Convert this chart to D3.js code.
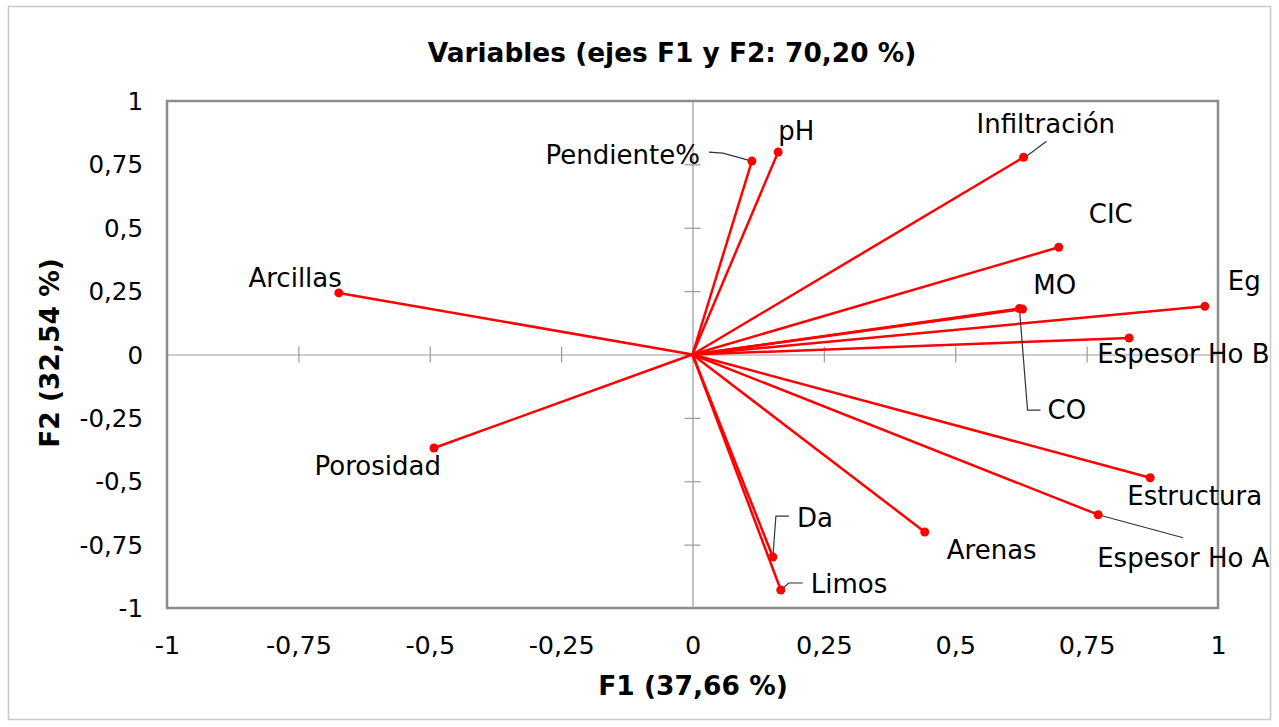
<!DOCTYPE html>
<html>
<head>
<meta charset="utf-8">
<script src="https://cdn.jsdelivr.net/npm/d3@7"></script>
<style>
  html, body { margin: 0; padding: 0; background: #ffffff; }
  svg { display: block; font-family: Verdana, "DejaVu Sans", sans-serif; }
</style>
</head>
<body>
<svg id="chart" width="1279" height="727"></svg>
<script>
// ---- data ----
const variables = ["Pendiente%", "pH", "Infiltración", "CIC", "MO", "CO", "Eg", "Espesor Ho B",
                   "Estructura", "Espesor Ho A", "Arenas", "Da", "Limos", "Arcillas", "Porosidad"];
const f1Values = [0.113, 0.163, 0.630, 0.697, 0.622, 0.628, 0.975, 0.831,
                  0.871, 0.772, 0.442, 0.153, 0.168, -0.673, -0.492];
const f2Values = [0.763, 0.799, 0.778, 0.423, 0.181, 0.179, 0.190, 0.065,
                  -0.486, -0.632, -0.700, -0.799, -0.929, 0.243, -0.369];
const tickValues = [-1, -0.75, -0.5, -0.25, 0, 0.25, 0.5, 0.75, 1];
const titleText = "Variables (ejes F1 y F2: 70,20 %)";
const xTitle = "F1 (37,66 %)";
const yTitle = "F2 (32,54 %)";

// ---- layout (label placement in pixels relative to the point) ----
const labelLayout = {
  "Pendiente%":   {dx: -52, dy: -6,  anchor: "end",   leader: [[0,0],[-29,-8],[-43,-9]]},
  "pH":           {dx: 0,   dy: -21, anchor: "start"},
  "Infiltración": {dx: -47, dy: -33, anchor: "start", leader: [[3,-1],[23,-16]]},
  "CIC":          {dx: 30,  dy: -33, anchor: "start"},
  "MO":           {dx: 14,  dy: -24, anchor: "start"},
  "CO":           {dx: 25,  dy: 101, anchor: "start", leader: [[-3,0],[5,101],[18,101]]},
  "Eg":           {dx: 23,  dy: -25, anchor: "start"},
  "Espesor Ho B": {dx: -32, dy: 16,  anchor: "start"},
  "Estructura":   {dx: -23, dy: 18,  anchor: "start"},
  "Espesor Ho A": {dx: -1,  dy: 43,  anchor: "start", leader: [[0,0],[85,23]]},
  "Arenas":       {dx: 22,  dy: 18,  anchor: "start"},
  "Da":           {dx: 24,  dy: -39, anchor: "start", leader: [[0,0],[3,-41],[16,-41]]},
  "Limos":        {dx: 30,  dy: -6,  anchor: "start", leader: [[0,0],[8,-7],[22,-7]]},
  "Arcillas":     {dx: 3,   dy: -15, anchor: "end"},
  "Porosidad":    {dx: 7,   dy: 18,  anchor: "end"}
};

const svg = d3.select("#chart");
const W = 1279, H = 727;
const plot = {left: 167, right: 1218, top: 101, bottom: 608};
const FONT = "Verdana, 'DejaVu Sans', sans-serif";

const x = d3.scaleLinear().domain([-1, 1]).range([plot.left, plot.right]);
const y = d3.scaleLinear().domain([-1, 1]).range([plot.bottom, plot.top]);

// outer chart border
svg.append("rect").attr("x", 8.5).attr("y", 6.5).attr("width", W - 17).attr("height", H - 14)
  .attr("fill", "#fff").attr("stroke", "#c8c8c8").attr("stroke-width", 1.5);

// title
svg.append("text").attr("x", 672).attr("y", 53).attr("dy", "0.35em")
  .attr("text-anchor", "middle").attr("font-weight", "bold").attr("font-size", 26.4)
  .attr("fill", "#000").text(titleText);

// plot frame
svg.append("rect").attr("x", plot.left).attr("y", plot.top)
  .attr("width", plot.right - plot.left).attr("height", plot.bottom - plot.top)
  .attr("fill", "none").attr("stroke", "#8c8c8c").attr("stroke-width", 2.5);

// axes through origin
const gx = svg.append("g").attr("transform", `translate(0,${y(0)})`);
gx.call(d3.axisBottom(x).tickValues(tickValues.filter(t => t > -1 && t < 1)).tickSize(0).tickFormat(""));
gx.select(".domain").attr("stroke", "#999").attr("stroke-width", 1.2);
gx.selectAll(".tick").append("line").attr("y1", -8).attr("y2", 8).attr("stroke", "#999").attr("stroke-width", 1.2);

const gy = svg.append("g").attr("transform", `translate(${x(0)},0)`);
gy.call(d3.axisLeft(y).tickValues(tickValues.filter(t => t > -1 && t < 1)).tickSize(0).tickFormat(""));
gy.select(".domain").attr("stroke", "#999").attr("stroke-width", 1.2);
gy.selectAll(".tick").append("line").attr("x1", -8).attr("x2", 8).attr("stroke", "#999").attr("stroke-width", 1.2);

const fmt = v => (v === 0 ? "0" : String(v).replace(".", ","));

// tick labels (bottom and left of frame)
const bx = svg.append("g").attr("transform", `translate(0,${plot.bottom + 37})`);
bx.call(d3.axisBottom(x).tickValues(tickValues).tickSize(0).tickFormat(fmt));
bx.select(".domain").remove();
bx.selectAll("text").attr("font-size", 25.5).attr("font-family", FONT)
  .attr("fill", "#000").attr("y", 0).attr("dy", "0.35em");

const ly = svg.append("g").attr("transform", `translate(${plot.left - 24},0)`);
ly.call(d3.axisLeft(y).tickValues(tickValues).tickSize(0).tickFormat(fmt));
ly.select(".domain").remove();
ly.selectAll("text").attr("font-size", 24.5).attr("font-family", FONT)
  .attr("fill", "#000").attr("x", 0).attr("dy", "0.35em");

// axis titles
svg.append("text").attr("x", 693).attr("y", 686).attr("dy", "0.35em")
  .attr("text-anchor", "middle").attr("font-weight", "bold").attr("font-size", 26.5).text(xTitle);
svg.append("text").attr("transform", "translate(50,353) rotate(-90)").attr("dy", "0.35em")
  .attr("text-anchor", "middle").attr("font-weight", "bold").attr("font-size", 26.5).text(yTitle);

const data = variables.map((name, i) => ({name, f1: f1Values[i], f2: f2Values[i]}));

// vectors
svg.append("g").selectAll("line").data(data).join("line")
  .attr("x1", x(0)).attr("y1", y(0))
  .attr("x2", d => x(d.f1)).attr("y2", d => y(d.f2))
  .attr("stroke", "#ff0000").attr("stroke-width", 2.5);

// leader lines
svg.append("g").selectAll("polyline").data(data.filter(d => labelLayout[d.name].leader)).join("polyline")
  .attr("points", d => labelLayout[d.name].leader.map(p => [x(d.f1) + p[0], y(d.f2) + p[1]].join(",")).join(" "))
  .attr("fill", "none").attr("stroke", "#333").attr("stroke-width", 1.2);

// points
svg.append("g").selectAll("circle").data(data).join("circle")
  .attr("cx", d => x(d.f1)).attr("cy", d => y(d.f2)).attr("r", 4.5)
  .attr("fill", "#ff0000");

// labels
svg.append("g").selectAll("text").data(data).join("text")
  .attr("x", d => x(d.f1) + labelLayout[d.name].dx)
  .attr("y", d => y(d.f2) + labelLayout[d.name].dy)
  .attr("dy", "0.35em")
  .attr("text-anchor", d => labelLayout[d.name].anchor)
  .attr("font-size", 26).attr("fill", "#000")
  .text(d => d.name);
</script>
</body>
</html>
